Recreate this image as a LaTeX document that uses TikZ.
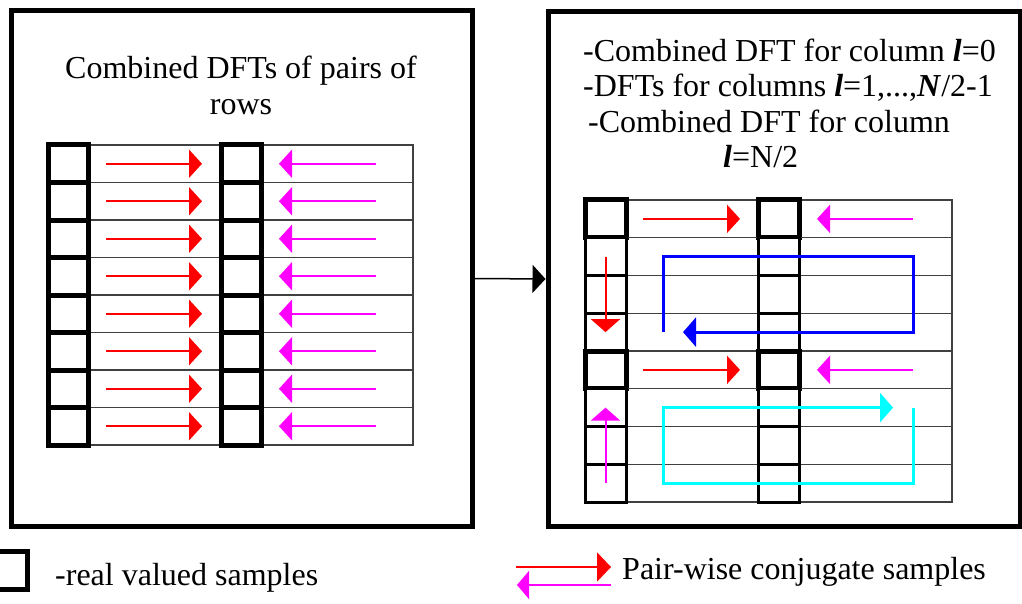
\documentclass[tikz,border=0pt]{standalone}
\usepackage{fontspec}
\setmainfont{Liberation Serif}
\usetikzlibrary{arrows.meta}
\definecolor{pinkarrow}{RGB}{255,0,255}
\definecolor{cyanloop}{RGB}{0,255,255}
\definecolor{blueloop}{RGB}{0,0,255}
\definecolor{redarrowc}{RGB}{255,0,0}

\begin{document}
\begin{tikzpicture}[x=1pt,y=-1pt,
    panel/.style={shape=rectangle,draw=black,line width=5pt},
    gridrow/.style={shape=rectangle,draw=black!75,line width=1.3pt,inner sep=0pt,outer sep=0pt},
    thickcell/.style={shape=rectangle,draw=black,fill=white,line width=5pt,minimum width=40pt,inner sep=0pt,outer sep=0pt},
    thincell/.style={shape=rectangle,draw=black,fill=white,line width=3pt,minimum width=40pt,inner sep=0pt,outer sep=0pt},
    redarrow/.style={draw=redarrowc,fill=redarrowc,line width=2pt,-{Triangle[length=13pt,width=28pt]}},
    magarrow/.style={draw=pinkarrow,fill=pinkarrow,line width=2pt,-{Triangle[length=13pt,width=28pt]}},
    loopline/.style={line width=3pt,-{Triangle[length=13pt,width=29pt]}},
    txt/.style={font=\fontsize{32}{38}\selectfont,inner sep=0pt}]
        \useasboundingbox (0,0) rectangle (1022,604);

        % the two panels
        \node[panel,minimum width=461pt,minimum height=515pt] (leftpanel) at (241.5,268.5) {};
        \node[panel,minimum width=472pt,minimum height=514pt] (rightpanel) at (784,269) {};
        \draw[line width=1.5pt,-{Triangle[length=13pt,width=28pt]}] ([yshift=-10pt]leftpanel.east) -- ([yshift=-10pt]rightpanel.west);

        \node[txt,anchor=base] (ltitle1) at (241,79) {Combined DFTs of pairs of};
        \node[txt,anchor=base] (ltitle2) at (241,115) {rows};
        \node[txt,anchor=base west] (rtitle1) at (583,62) {-Combined DFT for column \textbf{\textit{l}}=0};
        \node[txt,anchor=base west] (rtitle2) at (583,97) {-DFTs for columns \textbf{\textit{l}}=1,...,\textbf{\textit{N}}/2-1};
        \node[txt,anchor=base west] (rtitle3) at (588,133) {-Combined DFT for column};
        \node[txt,anchor=base west] (rtitle4) at (723,168) {\textbf{\textit{l}}=N/2};

        % rows of the left panel
        \foreach \i in {1,...,8} {
            \node[gridrow,minimum width=365pt,minimum height=37.5pt] (lrow\i) at (230.5,126.25+37.5*\i) {};
            \node[thickcell,minimum height=37.5pt] (la\i) at (68,126.25+37.5*\i) {};
            \node[thickcell,minimum height=37.5pt] (lb\i) at (241,126.25+37.5*\i) {};
            \draw[redarrow] ([xshift=18pt]la\i.east) -- ([xshift=-19pt]lb\i.west);
            \draw[magarrow] ([xshift=-37pt]lrow\i.east) -- ([xshift=18pt]lb\i.east);
        }

        % rows of the right panel
        \foreach \i/\cell in {1/thickcell,2/thincell,3/thincell,4/thincell,5/thickcell,6/thincell,7/thincell,8/thincell} {
            \node[gridrow,minimum width=367pt,minimum height=37.75pt] (rrow\i) at (768.5,181.125+37.75*\i) {};
            \node[\cell,minimum width=41pt,minimum height=37.75pt] (ra\i) at (605.5,181.125+37.75*\i) {};
            \node[\cell,minimum width=41pt,minimum height=37.75pt] (rb\i) at (778.5,181.125+37.75*\i) {};
        }
        \foreach \i in {1,5} {
            \draw[redarrow] ([xshift=17pt]ra\i.east) -- ([xshift=-18pt]rb\i.west);
            \draw[magarrow] ([xshift=-39pt]rrow\i.east) -- ([xshift=18pt]rb\i.east);
        }
        \draw[redarrow,-{Triangle[length=13pt,width=29pt]}] (ra2.center) -- (ra4.center);
        \draw[magarrow,-{Triangle[length=13pt,width=29pt]}] (ra8.center) -- (ra6.center);
        \draw[loopline,draw=blueloop] ([xshift=37pt]ra4.east) -- ([xshift=37pt]ra2.east) -- ([xshift=-39pt]rrow2.east)
            -- ([xshift=-39pt]rrow4.east) -- ([xshift=57pt]ra4.east);
        \draw[loopline,draw=cyanloop] ([xshift=-39pt]rrow6.east) -- ([xshift=-39pt]rrow8.east) -- ([xshift=37pt]ra8.east)
            -- ([xshift=37pt]ra6.east) -- ([xshift=-59pt]rrow6.east);

        % legend
        \node[thickcell,minimum height=38pt] (realbox) at (7,570) {};
        \node[txt,anchor=base west] (realtext) at (55,585) {-real valued samples};
        \coordinate (pairA) at (516,567);
        \coordinate (pairB) at (611,567);
        \coordinate (pairC) at (611,585);
        \coordinate (pairD) at (517,585);
        \draw[redarrow,-{Triangle[length=14pt,width=29pt]}] (pairA) -- (pairB);
        \draw[magarrow,-{Triangle[length=12pt,width=28pt]}] (pairC) -- (pairD);
        \node[txt,anchor=base west] (pairtext) at (622,579) {Pair-wise conjugate samples};
\end{tikzpicture}
\end{document}
